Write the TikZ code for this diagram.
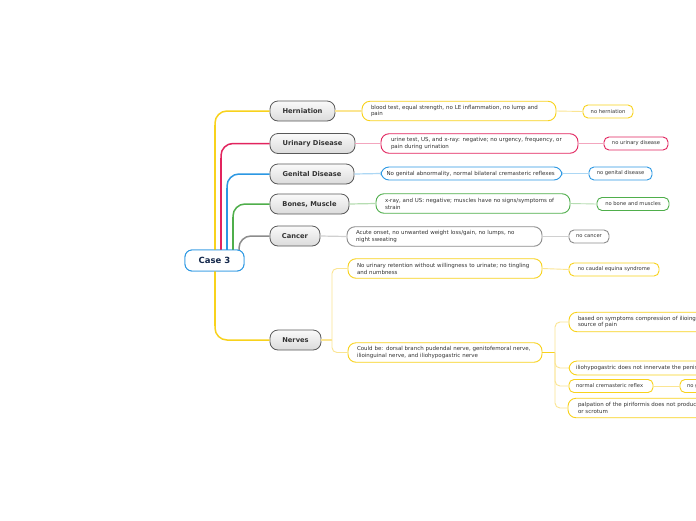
\documentclass[tikz,border=0pt]{standalone}
\usepackage{fontspec}
\setmainfont{DejaVu Sans}
\definecolor{cyel}{HTML}{F8D21C}
\definecolor{cyelL}{HTML}{FBE592}
\definecolor{cpink}{HTML}{E2245E}
\definecolor{cpinkL}{HTML}{F3A6BE}
\definecolor{cblue}{HTML}{2C98E3}
\definecolor{cblueL}{HTML}{ACD7F4}
\definecolor{cgreen}{HTML}{4FAE4B}
\definecolor{cgreenL}{HTML}{B6DDB2}
\definecolor{cgray}{HTML}{8C8C8C}
\definecolor{cgrayL}{HTML}{D0D0D0}
\definecolor{navy}{HTML}{14284B}
\definecolor{txt}{HTML}{333333}
\tikzset{
  rootbox/.style={draw=cblue, line width=0.9pt, rounded corners=7pt, fill=white,
    minimum width=59pt, minimum height=21pt, inner sep=0pt,
    font=\fontsize{8.5}{10}\selectfont\bfseries, text=navy},
  topicbox/.style={draw=black!65, line width=0.8pt, rounded corners=8pt,
    top color=gray!4, bottom color=gray!28, minimum height=20pt, inner sep=0pt,
    font=\fontsize{6.7}{8}\selectfont\bfseries, text=txt},
  detailbox/.style={draw=#1, line width=0.9pt, rounded corners=8pt, fill=white,
    minimum height=19.5pt, inner xsep=9pt, inner ysep=2pt, align=left,
    font=\fontsize{5.5}{6.9}\selectfont, text=txt},
  conclbox/.style={draw=#1, line width=0.9pt, rounded corners=5pt, fill=white,
    minimum height=13pt, inner sep=0pt,
    font=\fontsize{5.2}{6}\selectfont, text=txt},
  rootline/.style={draw=#1, line width=1.5pt, rounded corners=12pt},
  rootstem/.style={draw=#1, line width=2.6pt},
  linkline/.style={draw=#1, line width=1.2pt},
  thinline/.style={draw=#1, line width=0.9pt},
}
\begin{document}
\begin{tikzpicture}[x=1pt,y=-1pt]
\useasboundingbox (0,0) rectangle (696,520);
\clip (0,0) rectangle (696,520);
\fill[white] (0,0) rectangle (696,520);

% root and topics
\node[rootbox] (root) at (214.5,260.5) {Case 3};
\node[topicbox, minimum width=65pt] (hern) at (302.5,111) {Herniation};
\node[topicbox, minimum width=85pt] (uri) at (312.5,143.5) {Urinary Disease};
\node[topicbox, minimum width=84pt] (gen) at (312,174) {Genital Disease};
\node[topicbox, minimum width=79pt] (bon) at (309.5,204) {Bones, Muscle};
\node[topicbox, minimum width=50pt] (can) at (295,236) {Cancer};
\node[topicbox, minimum width=51pt] (ner) at (295.5,340) {Nerves};

% root connectors
\coordinate (sy) at (215,250);
\coordinate (sp) at (221,250);
\coordinate (sb) at (227,250);
\coordinate (sg) at (233,250);
\coordinate (sc) at (239,250);
\coordinate (sn) at (215,271);
\path[rootline=cyel] (sy) |- (hern.west);
\path[rootline=cpink] (sp) |- (uri.west);
\path[rootline=cblue] (sb) |- (gen.west);
\path[rootline=cgreen] (sg) |- (bon.west);
\path[rootline=cgray] (sc) |- (can.west);
\path[rootline=cyel] (sn) |- (ner.west);
\path[rootstem=cyel] (sy) -- ++(0,-125);
\path[rootstem=cpink] (sp) -- ++(0,-92);
\path[rootstem=cblue] (sb) -- ++(0,-62);
\path[rootstem=cgreen] (sg) -- ++(0,-33);
\path[rootstem=cyel] (sn) -- ++(0,55);
\node[rootbox] at (root) {Case 3};

% details
\node[detailbox=cyel, minimum width=194pt, text width=176pt] (hd) at (459,111)
  {blood test, equal strength, no LE inflammation, no lump and\\pain};
\node[detailbox=cpink, minimum width=195pt, text width=177pt, inner xsep=10pt] (ud) at (479.5,143.5)
  {urine test, US, and x-ray: negative; no urgency, frequency, or\\pain during urination};
\node[detailbox=cblue, minimum width=181pt, minimum height=13pt, text width=170pt, inner xsep=5.5pt] (gd) at (471.5,173.5)
  {\mbox{No genital abnormality, normal bilateral cremasteric reflexes}};
\node[detailbox=cgreen, minimum width=194pt, text width=176pt] (bd) at (473,203.5)
  {x-ray, and US: negative; muscles have no signs/symptoms of\\strain};
\node[detailbox=cgray, minimum width=195pt, text width=177pt] (cd) at (444.5,236.5)
  {Acute onset, no unwanted weight loss/gain, no lumps, no\\night sweating};
\node[detailbox=cyel, minimum width=194pt, text width=176pt] (n1) at (445,268.5)
  {No urinary retention without willingness to urinate; no tingling\\and numbness};
\node[detailbox=cyel, minimum width=194pt, text width=176pt] (n2) at (445,352.5)
  {Could be: dorsal branch pudendal nerve, genitofemoral nerve,\\ilioinguinal nerve, and iliohypogastric nerve};

% conclusions
\node[conclbox=cyel, minimum width=50pt] (hc) at (608,111.5) {no herniation};
\node[conclbox=cpink, minimum width=64pt] (uc) at (636,143.5) {no urinary disease};
\node[conclbox=cblue, minimum width=63pt] (gc) at (620.5,173.5) {no genital disease};
\node[conclbox=cgreen, minimum width=72pt] (bc) at (633,204) {no bone and muscles};
\node[conclbox=cgray, minimum width=40pt] (cc) at (589,236.5) {no cancer};
\node[conclbox=cyel, minimum width=90pt] (n1c) at (614,269.5) {no caudal equina syndrome};

% level 3 under nerves
\node[detailbox=cyel, minimum width=194pt, text width=176pt] (l1) at (666,322)
  {\mbox{based on symptoms compression of ilioinguinal nerve is likely}\\source of pain};
\node[detailbox=cyel, minimum width=194pt, minimum height=14pt, text width=180pt, inner xsep=7pt] (l2) at (666,368)
  {\mbox{iliohypogastric does not innervate the penis or scrotum}};
\node[conclbox=cyel, minimum width=84pt, inner xsep=7pt, text width=70pt, align=left] (l3) at (611,386)
  {normal cremasteric reflex};
\node[conclbox=cyel, minimum width=100pt, inner xsep=7pt, text width=86pt, align=left] (l3c) at (730,386)
  {no genitofemoral nerve};
\node[detailbox=cyel, minimum width=194pt, text width=176pt, inner xsep=10pt] (l4) at (666,408)
  {\mbox{palpation of the piriformis does not produce pain in the penis}\\or scrotum};

% topic to detail links
\path[linkline=cyelL] (hern.east) -- (hd.west);
\path[linkline=cpinkL] (uri.east) -- (ud.west);
\path[linkline=cblueL] (gen.east) -- (gd.west);
\path[linkline=cgreenL] (bon.east) -- (bd.west);
\path[linkline=cgrayL] (can.east) -- (cd.west);

% detail to conclusion links
\path[thinline=cyelL] (hd.east) -- (hc.west);
\path[thinline=cpinkL] (ud.east) -- (uc.west);
\path[thinline=cblueL] (gd.east) -- (gc.west);
\path[thinline=cgreenL] (bd.east) -- (bc.west);
\path[thinline=cgrayL] (cd.east) -- (cc.west);
\path[thinline=cyelL] (n1.east) -- (n1c.west);
\path[thinline=cyelL] (l3.east) -- (l3c.west);

% nerves branch
\coordinate (nj) at (332,340);
\path[linkline=cyelL] (ner.east) -- (nj);
\path[thinline=cyelL, rounded corners=5pt] (nj) |- (n1.west);
\path[thinline=cyelL, rounded corners=5pt] (nj) |- (n2.west);

% level 3 branch
\coordinate (j3) at (555,352.5);
\path[draw=cyel, line width=1.8pt] (n2.east) -- (j3);
\path[thinline=cyelL, rounded corners=5pt] (j3) |- (l1.west);
\path[thinline=cyelL, rounded corners=5pt] (j3) |- (l2.west);
\path[thinline=cyelL, rounded corners=5pt] (j3) |- (l3.west);
\path[thinline=cyelL, rounded corners=5pt] (j3) |- (l4.west);
\end{tikzpicture}
\end{document}
